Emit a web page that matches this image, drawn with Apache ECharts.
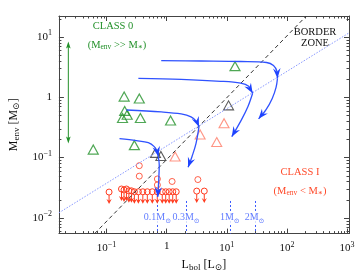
<!DOCTYPE html>
<html><head><meta charset="utf-8">
<script src="https://cdn.jsdelivr.net/npm/echarts@6/dist/echarts.min.js"></script>
<style>html,body{margin:0;padding:0;background:#fff}#c{width:359px;height:277px}</style>
</head><body><div id="c"></div>
<script>
// ---------- data ----------
const xRange = [0.0161, 1079];          // L_bol [Lsun]
const yRange = [0.00547, 22.1];         // M_env [Msun]

const xTickValues = [0.1, 1, 10, 100, 1000];
const xTickLabels = ['10{sup|−1}', '1', '10{sup|1}', '10{sup|2}', '10{sup|3}'];
const yTickValues = [0.01, 0.1, 1, 10];
const yTickLabels = ['10{sup|−2}', '10{sup|−1}', '1', '10{sup|1}'];

const class0Tri = [[0.196,1.02],[0.35,0.95],[0.20,0.59],[0.184,0.45],[0.22,0.51],[0.365,0.45],[1.16,0.41],[13.7,3.26],[0.060,0.135],[0.29,0.16]];
const borderTri = [[10.7,0.73],[0.65,0.119],[0.80,0.106]];
const class1Tri = [[9.0,0.37],[3.6,0.24],[6.8,0.18],[1.38,0.104]];
const class1Circ = [[0.35,0.073],[0.35,0.049],[0.70,0.044],[0.70,0.035],[1.23,0.040],[3.3,0.043]];
const upperLimits = [[0.110,0.0267],[0.177,0.030],[0.195,0.029],[0.214,0.030],[0.235,0.028],[0.259,0.028],[0.290,0.027],[0.338,0.027],[0.401,0.027],[0.476,0.027],[0.576,0.027],[0.697,0.027],[0.843,0.027],[0.963,0.027],[1.10,0.027],[1.26,0.027],[1.44,0.027],[3.16,0.0277],[4.22,0.0277]];

const dashedLine = [[0.0633,0.00547],[210,22.1]];
const dottedLine = [[0.0161,0.0121],[1079,11.6]];
const envArrow = [[0.0231,8.37],[0.0231,0.170]];

const track2M_a = [[0.811,4.04],[3.72,3.97],[17.0,3.89],[45.8,3.75],[59.8,3.35],[68.4,2.67],[69.7,2.05]];
const track2M_b = [[69.7,2.05],[66.0,1.45],[57.0,0.95],[45.0,0.62],[33.8,0.436]];
const track1M_a = [[0.338,2.05],[1.74,1.97],[7.96,1.83],[17.0,1.70],[23.1,1.51],[26.9,1.16]];
const track1M_b = [[26.9,1.16],[22.5,0.70],[17.5,0.42],[12.1,0.221]];
const track03M_a = [[0.214,0.612],[0.811,0.568],[1.74,0.526],[2.54,0.470],[3.19,0.389],[3.44,0.322]];
const track03M_b = [[3.44,0.322],[3.07,0.170],[2.64,0.104],[2.27,0.0686]];
const track01M_a = [[0.164,0.205],[0.313,0.190],[0.495,0.176],[0.621,0.151],[0.697,0.125],[0.724,0.104]];
const track01M_b = [[0.724,0.104],[0.752,0.074],[0.71,0.0221]];
const trackSegments = [track2M_a, track2M_b, track1M_a, track1M_b, track03M_a, track03M_b, track01M_a, track01M_b];

const massLineL = [0.70, 2.1, 11.2, 29];
const massLineLabels = ['0.1', '0.3', '1', '2'];
const massLineTop = 0.019;
const massLabelM = 0.01;

// ---------- styles ----------
const serif = '"Liberation Serif","DejaVu Serif",serif';
const frame = '#444';
const green = '#23912a';
const red = '#ff3b1f';
const salmon = '#ff7a66';
const blue = '#2f52ff';
const blueLab = '#3a5bff';

function richSet(color, size) {
  return {
    sup: {fontFamily: serif, fontSize: Math.round(size * 0.72), color, padding: [0, 0, 7, 0]},
    sub: {fontFamily: serif, fontSize: Math.round(size * 0.72), color, padding: [6, 0, 0, 0]}
  };
}
function fmt(vals, labs) {
  return v => {
    const i = vals.findIndex(t => Math.abs(Math.log10(t) - Math.log10(v)) < 1e-6);
    return i < 0 ? '' : labs[i];
  };
}
function arrowHead(tip, from, len, hw, notch) {
  const dx = tip[0] - from[0], dy = tip[1] - from[1];
  const d = Math.hypot(dx, dy) || 1, ux = dx / d, uy = dy / d, px = -uy, py = ux;
  const bx = tip[0] - ux * len, by = tip[1] - uy * len;
  return [[tip[0], tip[1]], [bx + px * hw, by + py * hw],
          [tip[0] - ux * (len - notch), tip[1] - uy * (len - notch)], [bx - px * hw, by - py * hw]];
}

// minor ticks (2..9 x 10^k) for the frame
function minorTicks(range) {
  const out = [];
  for (let k = Math.floor(Math.log10(range[0])); k <= Math.ceil(Math.log10(range[1])); k++) {
    for (let m = 2; m <= 9; m++) {
      const v = m * Math.pow(10, k);
      if (v > range[0] && v < range[1]) out.push(v);
    }
  }
  return out;
}
const xMinor = minorTicks(xRange), yMinor = minorTicks(yRange);

const chart = echarts.init(document.getElementById('c'), null, {renderer: 'canvas'});

const axisCommon = {
  type: 'log', logBase: 10,
  axisLine: {show: true, onZero: false, lineStyle: {color: frame, width: 1}},
  axisTick: {show: true, inside: true, length: 5, lineStyle: {color: frame, width: 1}},
  splitLine: {show: false}
};

const option = {
  animation: false,
  backgroundColor: '#fff',
  grid: {left: 57, right: 10, top: 16, bottom: 41, containLabel: false},
  xAxis: [
    Object.assign({}, axisCommon, {
      position: 'bottom', min: xRange[0], max: xRange[1], splitNumber: 5,
      axisLabel: {formatter: fmt(xTickValues, xTickLabels), margin: 7, showMinLabel: false, showMaxLabel: false,
        fontFamily: serif, fontSize: 11, color: '#111', rich: richSet('#111', 11)},
      name: 'L{sub|bol} [L{sub|⊙}]', nameLocation: 'middle', nameGap: 20,
      nameTextStyle: {fontFamily: serif, fontSize: 12, color: '#111', rich: richSet('#111', 12)}
    }),
    Object.assign({}, axisCommon, {
      position: 'top', min: xRange[0], max: xRange[1], splitNumber: 5, axisLabel: {show: false}
    })
  ],
  yAxis: [
    Object.assign({}, axisCommon, {
      position: 'left', min: yRange[0], max: yRange[1], splitNumber: 4,
      axisLabel: {formatter: fmt(yTickValues, yTickLabels), margin: 7, showMinLabel: false, showMaxLabel: false,
        fontFamily: serif, fontSize: 11, color: '#111', rich: richSet('#111', 11)},
      name: 'M{sub|env} [M{sub|⊙}]', nameLocation: 'middle', nameGap: 28, nameRotate: 90,
      nameTextStyle: {fontFamily: serif, fontSize: 12, color: '#111', rich: richSet('#111', 12)}
    }),
    Object.assign({}, axisCommon, {
      position: 'right', min: yRange[0], max: yRange[1], splitNumber: 4, axisLabel: {show: false}
    })
  ],
  series: [
    { // minor ticks on all four sides
      type: 'custom', clip: false, silent: true,
      data: xMinor.map(v => [v, yRange[0], 0]).concat(yMinor.map(v => [xRange[0], v, 1])),
      renderItem: (params, api) => {
        const cs = params.coordSys, p = api.coord([api.value(0), api.value(1)]);
        const L = 2.5, st = {stroke: frame, lineWidth: 1};
        if (api.value(2) === 0) {
          const x = Math.round(p[0]) + 0.5;
          return {type: 'group', children: [
            {type: 'line', shape: {x1: x, y1: cs.y + cs.height, x2: x, y2: cs.y + cs.height - L}, style: st},
            {type: 'line', shape: {x1: x, y1: cs.y, x2: x, y2: cs.y + L}, style: st}]};
        }
        const y = Math.round(p[1]) + 0.5;
        return {type: 'group', children: [
          {type: 'line', shape: {x1: cs.x, y1: y, x2: cs.x + L, y2: y}, style: st},
          {type: 'line', shape: {x1: cs.x + cs.width, y1: y, x2: cs.x + cs.width - L, y2: y}, style: st}]};
      }
    },
    {type: 'line', data: dashedLine, showSymbol: false, symbol: 'none', silent: true,
     lineStyle: {color: '#333', width: 1, type: [4, 3]}},
    {type: 'line', data: dottedLine, showSymbol: false, symbol: 'none', silent: true,
     lineStyle: {color: '#8797ff', width: 1, type: [1.5, 1.5]}},
    { // mass lines (dashed vertical)
      type: 'custom', silent: true,
      data: massLineL.map(L => [L, massLineTop]),
      renderItem: (params, api) => {
        const cs = params.coordSys, p = api.coord([api.value(0), api.value(1)]);
        const x = Math.round(p[0]) + 0.5;
        return {type: 'line', shape: {x1: x, y1: p[1], x2: x, y2: cs.y + cs.height},
                style: {stroke: blueLab, lineWidth: 1, lineDash: [2, 2]}};
      }
    },
    { // mass labels
      type: 'scatter', symbolSize: 0, silent: true, z: 5,
      data: massLineL.map(L => [L, massLabelM]),
      label: {show: true, position: 'inside', backgroundColor: '#fff', padding: [0, 1, 0, 1],
        formatter: p => massLineLabels[p.dataIndex] + 'M{sub|⊙}',
        fontFamily: serif, fontSize: 10, color: blueLab, rich: richSet(blueLab, 10)}
    },
    { // green double arrow
      type: 'custom', silent: true,
      data: [[envArrow[0][0], envArrow[0][1], envArrow[1][0], envArrow[1][1]]],
      renderItem: (params, api) => {
        const a = api.coord([api.value(0), api.value(1)]), b = api.coord([api.value(2), api.value(3)]);
        return {type: 'group', children: [
          {type: 'line', shape: {x1: a[0], y1: a[1] + 4, x2: b[0], y2: b[1] - 4}, style: {stroke: green, lineWidth: 1}},
          {type: 'polygon', shape: {points: arrowHead(a, b, 7, 2.3, 1.5)}, style: {fill: green}},
          {type: 'polygon', shape: {points: arrowHead(b, a, 7, 2.3, 1.5)}, style: {fill: green}}]};
      }
    },
    {type: 'scatter', data: class1Circ, symbol: 'circle', symbolSize: 6,
     itemStyle: {color: 'rgba(0,0,0,0)', borderColor: red, borderWidth: 1}},
    { // upper limits
      type: 'custom', silent: true,
      data: upperLimits,
      renderItem: (params, api) => {
        const p = api.coord([api.value(0), api.value(1)]);
        const r = 3, len = 12;
        return {type: 'group', children: [
          {type: 'circle', shape: {cx: p[0], cy: p[1], r}, style: {fill: 'none', stroke: red, lineWidth: 1}},
          {type: 'line', shape: {x1: p[0], y1: p[1] + r, x2: p[0], y2: p[1] + len - 2}, style: {stroke: red, lineWidth: 1}},
          {type: 'polygon', shape: {points: arrowHead([p[0], p[1] + len], [p[0], p[1]], 5, 2.6, 1.8)}, style: {fill: red}}]};
      }
    },
    {type: 'scatter', data: class0Tri, symbol: 'triangle', symbolSize: [10, 9],
     itemStyle: {color: 'rgba(0,0,0,0)', borderColor: green, borderWidth: 1.2}},
    {type: 'scatter', data: borderTri, symbol: 'triangle', symbolSize: [10, 9],
     itemStyle: {color: 'rgba(0,0,0,0)', borderColor: '#333', borderWidth: 1.1}},
    {type: 'scatter', data: class1Tri, symbol: 'triangle', symbolSize: [10, 9],
     itemStyle: {color: 'rgba(0,0,0,0)', borderColor: salmon, borderWidth: 1.1}},
    { // evolutionary tracks
      type: 'custom', silent: true, z: 4,
      data: trackSegments.map((s, i) => [s[s.length - 1][0], s[s.length - 1][1], i]),
      renderItem: (params, api) => {
        const seg = trackSegments[api.value(2)];
        const pts = seg.map(q => api.coord(q));
        const n = pts.length;
        return {type: 'group', children: [
          {type: 'polyline', shape: {points: pts, smooth: 0.35}, style: {stroke: blue, lineWidth: 1.3, fill: null}},
          {type: 'polygon', shape: {points: arrowHead(pts[n - 1], pts[n - 2], 10, 3.8, 3.5)}, style: {fill: '#1e43ff'}}]};
      }
    }
  ],
  graphic: [
    {type: 'text', x: 113, y: 26, style: {text: 'CLASS 0', align: 'center', verticalAlign: 'middle',
      fontFamily: serif, fontSize: 10.5, fill: green}},
    {type: 'text', x: 117, y: 45, style: {text: '(M{sub|env} >> M{sub|∗})', align: 'center', verticalAlign: 'middle',
      fontFamily: serif, fontSize: 10.5, fill: green, rich: {sub: {fontFamily: serif, fontSize: 7.5, fill: green, padding: [5, 0, 0, 0]}}}},
    {type: 'text', x: 315, y: 32, style: {text: 'BORDER', align: 'center', verticalAlign: 'middle',
      fontFamily: serif, fontSize: 10.5, fill: '#111'}},
    {type: 'text', x: 315, y: 43, style: {text: 'ZONE', align: 'center', verticalAlign: 'middle',
      fontFamily: serif, fontSize: 10.5, fill: '#111'}},
    {type: 'text', x: 300, y: 172, style: {text: 'CLASS I', align: 'center', verticalAlign: 'middle',
      fontFamily: serif, fontSize: 10.5, fill: '#ff4a2a'}},
    {type: 'text', x: 300, y: 191, style: {text: '(M{sub|env} < M{sub|∗})', align: 'center', verticalAlign: 'middle',
      fontFamily: serif, fontSize: 10.5, fill: '#ff4a2a', rich: {sub: {fontFamily: serif, fontSize: 7.5, fill: '#ff4a2a', padding: [5, 0, 0, 0]}}}}
  ]
};
chart.setOption(option);
</script>
</body></html>
